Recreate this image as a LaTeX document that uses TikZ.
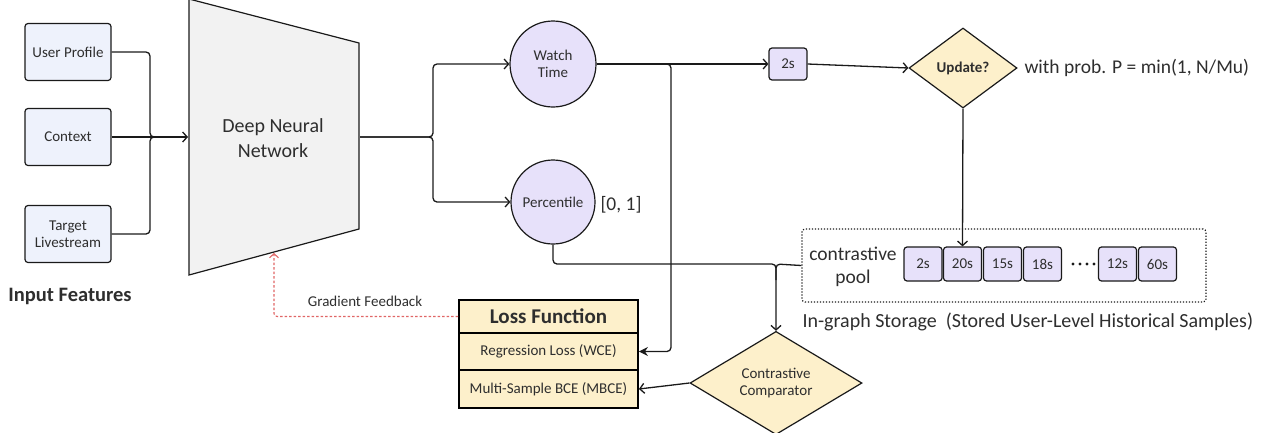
\documentclass[tikz,border=0pt]{standalone}
\usepackage{fontspec}
\setmainfont{Carlito}
\usetikzlibrary{shapes.geometric,arrows.meta}
\definecolor{inblue}{HTML}{EEF2FC}
\definecolor{lav}{HTML}{E7E1FA}
\definecolor{cream}{HTML}{FDF0CB}
\definecolor{trapg}{HTML}{F2F2F2}
\definecolor{gradred}{HTML}{E06666}
\definecolor{ink}{HTML}{1A1A1A}
\definecolor{txt}{HTML}{2E2E2E}
\begin{document}
\begin{tikzpicture}[x=1pt,y=-1pt,
  f13/.style={font=\fontsize{15}{17.5}\selectfont, text=txt},
  f20/.style={font=\fontsize{19.5}{23}\selectfont, text=txt},
  inbox/.style={f13, draw=ink, line width=1.2pt, rounded corners=3pt, fill=inblue, minimum width=86pt, minimum height=57pt, align=center, inner sep=2pt},
  circ/.style={f13, circle, draw=ink, line width=1.2pt, fill=lav, minimum size=86pt, inner sep=0pt, align=center},
  sbox/.style={f13, draw=ink, line width=1.2pt, rounded corners=3pt, fill=lav, minimum width=38pt, minimum height=34pt, inner sep=0pt},
  dia/.style={f13, diamond, draw=ink, line width=1.2pt, fill=cream, inner sep=0pt, align=center},
  lossbox/.style={f13, draw=black, line width=1.8pt, fill=cream, minimum width=179pt, inner sep=0pt, align=center},
  wire/.style={draw=ink, line width=1.3pt, rounded corners=4pt},
  arr/.style={wire, -{Straight Barb[length=4.5pt,width=10pt]}},
  arrf/.style={wire, -{Stealth[length=9pt,width=9pt]}},
]
\useasboundingbox (0,0) rectangle (1271,432);

% input features
\node[inbox] (up) at (68,52) {User Profile};
\node[inbox] (ctx) at (68,137) {Context};
\node[inbox] (tl) at (68,234) {Target\\Livestream};
\node[font=\fontsize{20.5}{24}\selectfont\bfseries, text=txt] (inf) at (70,296) {Input Features};

% DNN trapezoid
\draw[draw=ink, line width=1.2pt, fill=trapg] (189,-1) -- (359,43) -- (359,229) -- (189,275) -- cycle;
\node[font=\fontsize{20}{25}\selectfont, text=txt, align=center] (dnn) at (273,138) {Deep Neural\\Network};
\coordinate (dnnL) at (188,137);
\coordinate (dnnR) at (360,137);
\coordinate (dnnB) at (274,253);

\draw[wire] (up.east) -- (150,52) -- (150,137) -- (160,137);
\draw[wire] (tl.east) -- (150,234) -- (150,137) -- (160,137);
\draw[arr] (ctx.east) -- (dnnL);

% heads
\node[circ] (wt) at (553,64) {Watch\\Time};
\node[circ, minimum size=84pt] (pc) at (553,202) {Percentile};
\node[f20] (rng) at (621,205) {[0, 1]};

\draw[arr] (dnnR) -- (433,137) |- (wt.west);
\draw[arr] (dnnR) -- (433,137) |- (pc.west);

% update path
\node[sbox, minimum height=32pt] (two) at (788,64) {2s};
\node[dia, font=\fontsize{15}{17}\selectfont\bfseries, minimum width=108pt, minimum height=80pt] (upd) at (963,68) {Update?};
\node[f20, anchor=west] (prob) at (1021,68) {with prob. P = min(1, N/Mu)};

\draw[arr] (wt.east) -- (two.west);
\draw[arr] (two.east) -- (upd.west);

% contrastive pool
\node[draw=ink, line width=1.2pt, dash pattern=on 1.2pt off 1.8pt, rounded corners=3pt, minimum width=404pt, minimum height=73pt, inner sep=0pt] (pool) at (1004,265.5) {};
\node[f20, align=center] (cpl) at (853,267) {contrastive\\pool};
\node[sbox] (s1) at (923,264) {2s};
\node[sbox] (s2) at (962.5,264) {20s};
\node[sbox] (s3) at (1002.5,264) {15s};
\node[sbox] (s4) at (1042.5,264) {18s};
\node[sbox] (s5) at (1117.5,264) {12s};
\node[sbox] (s6) at (1157.5,264) {60s};
\foreach \x in {1073,1080,1087,1094} \fill[ink] (\x,264) circle (1.6pt);
\node[f20, font=\fontsize{20}{23}\selectfont, anchor=west] (igs) at (799,322) {In-graph Storage\ \ (Stored User-Level Historical Samples)};

\draw[arr] (upd.south) -- (s2.north);

% loss function
\node[lossbox, minimum height=33pt, font=\fontsize{21}{24}\selectfont\bfseries] (lh) at (548.5,316.5) {Loss Function};
\node[lossbox, minimum height=37pt] (reg) at (548.5,351.5) {Regression Loss (WCE)};
\node[lossbox, minimum height=38pt] (mb) at (548.5,389) {Multi-Sample BCE (MBCE)};

\draw[arrf] (wt.east) -- (671,64) |- (reg.east);

% comparator
\node[dia, minimum width=172pt, minimum height=68pt] (cmp) at (776,383) {Contrastive\\Comparator};
\draw[arr] (pc.south) |- (776,264) -- (cmp.north);
\draw[wire] (pool.west) -- (776,264) -- (776,280);
\draw[arr] (cmp.west) -- (mb.east);

% gradient feedback
\draw[draw=gradred, line width=1.1pt, dash pattern=on 2.5pt off 2pt, rounded corners=3pt, -{Straight Barb[length=4pt,width=9pt]}] (lh.west) -| (dnnB);
\node[f13] (gf) at (365,301) {Gradient Feedback};
\end{tikzpicture}
\end{document}
